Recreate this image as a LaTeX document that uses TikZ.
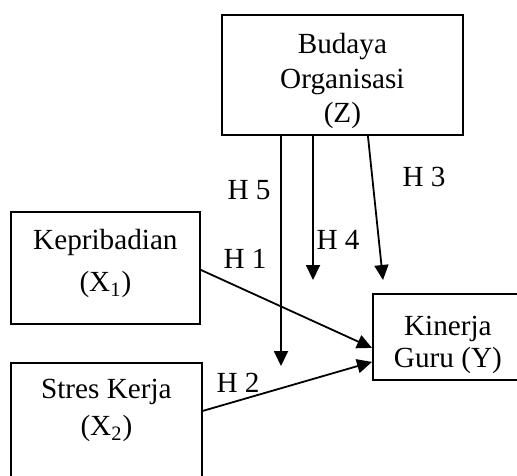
\documentclass[tikz,border=0pt]{standalone}
\usepackage{fontspec}
\setmainfont{Liberation Serif}
\usetikzlibrary{arrows.meta}
\begin{document}
\begin{tikzpicture}[->,>={Triangle[length=7.5pt,width=7pt]},x=0.5pt,y=-0.5pt,line width=0.9pt,
    box node/.style={rectangle,draw,anchor=north west,align=center,inner xsep=0pt,inner ysep=0pt,font=\fontsize{14.6}{17.5}\selectfont},
    hyp node/.style={inner sep=1pt,font=\fontsize{14.6}{17.5}\selectfont}]
            \useasboundingbox (0,0) rectangle (517,475);
            \clip (0,0) rectangle (517,475);
            \node [box node, minimum width=120.5pt, text height=54pt, text depth=6pt](z) at (221,14){Budaya\\[-0.25pt]Organisasi\\[-0.25pt](Z)};
            \node [box node, minimum width=94.5pt, text height=40pt, text depth=16pt](x1) at (10,211){Kepribadian\\[3.5pt](X\textsubscript{1})};
            \node [box node, minimum width=95.5pt, text height=36.5pt, text depth=21pt](x2) at (10,362){Stres Kerja\\[1pt](X\textsubscript{2})};
            \node [box node, minimum width=75pt, text height=37pt, text depth=6pt](y) at (372,293){Kinerja\\[-1.5pt]Guru (Y)};

            \node [hyp node](h5) at (249,190){H 5};
            \node [hyp node](h1) at (245,259){H 1};
            \node [hyp node](h4) at (338,240){H 4};
            \node [hyp node](h3) at (424,177){H 3};
            \node [hyp node](h2) at (238,383){H 2};

            \coordinate (p5) at (281,366);
            \coordinate (p4) at (313,280);
            \coordinate (p3) at (383,280);

            \path
                (z.south -| p5) edge (p5)
                (z.south -| p4) edge (p4)
                ([xshift=12.75pt]z.south) edge (p3)
                ([yshift=-1pt]x1.east) edge ([yshift=-5.5pt]y.west)
                ([yshift=4.75pt]x2.east) edge ([yshift=-12.5pt]y.west)
                ;
\end{tikzpicture}
\end{document}
